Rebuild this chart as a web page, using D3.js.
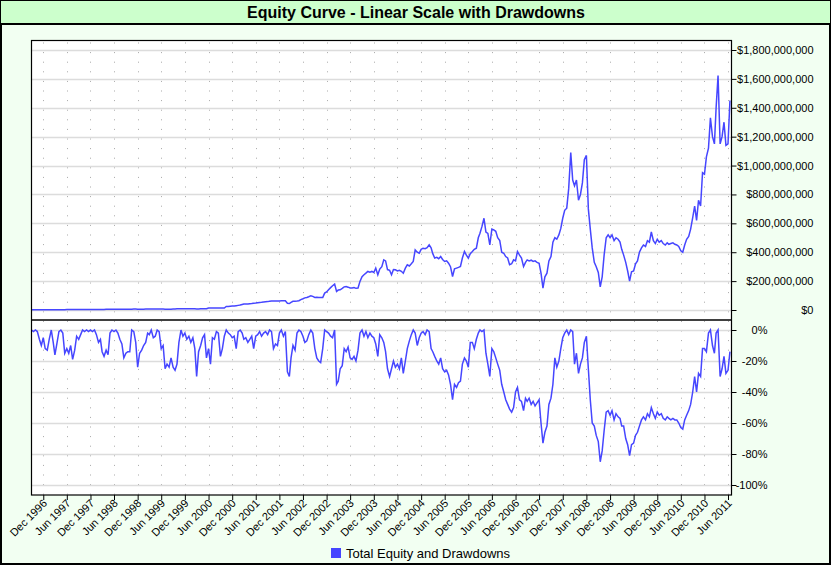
<!DOCTYPE html>
<html>
<head>
<meta charset="utf-8">
<script src="https://cdn.jsdelivr.net/npm/d3@7"></script>
<style>
  html, body { margin: 0; padding: 0; background: #fff; }
  svg { display: block; font-family: "Liberation Sans", Arial, sans-serif; }
</style>
</head>
<body>
<svg id="chart" width="832" height="566"></svg>
<script>
// half-month samples (1st and 16th), Sep 1996 .. Jun 2011
const startMonth = new Date(1996, 8, 1)
const endMonth = new Date(2011, 6, 1)
const lastDay = new Date(2011, 5, 28)

// total equity, millions of dollars
const equity = [
  2, 2, 2, 2, 2, 2, 2, 2, 2, 2, 2, 2, 2, 2, 2, 2, 2, 2, 3, 3,
  3, 3, 3, 3, 3, 3, 3, 3, 3, 3, 3, 3, 3, 3, 4, 4, 4, 4, 5, 5,
  6, 6, 6, 6, 6, 6, 6, 6, 5, 5, 6, 6, 7, 7, 6, 6, 6, 6, 7, 7,
  7, 7, 7, 7, 7, 7, 7, 7, 6, 6, 6, 6, 7, 7, 8, 8, 8, 8, 8, 8,
  8, 8, 8, 8, 7, 7, 8, 8, 9, 9,
  14, 14, 14, 14, 14, 14, 14, 14, 14,
  25, 25, 26, 27, 28, 30,
  32, 34, 38, 41, 41, 42, 44,
  45, 47, 48, 50, 52, 53, 55,
  57, 58, 60, 62, 62, 63, 62, 63, 64, 64, 64,
  47, 45, 53,
  60, 61, 62, 64, 72,
  78, 84, 87, 92, 99,
  94, 87, 88, 87, 86, 87,
  117, 125, 140, 155, 168,
  179, 129, 138, 140, 150,
  160, 163, 158, 152, 152, 155, 150, 152,
  198, 230, 244, 255, 267, 262, 267, 260, 290, 244, 283,
  300, 347, 340, 280, 275, 244, 280, 278, 270, 275,
  268, 255, 290, 313, 305, 320, 336, 416, 400, 393,
  420, 428, 425, 432, 451, 430, 390, 360, 365, 355,
  370, 350, 336, 340, 324, 300, 232, 285, 290, 295,
  301, 360, 405, 380, 359, 390, 405, 420, 428, 500,
  531, 577, 635, 540, 530, 450, 560, 555, 545, 500,
  480, 400, 393, 370, 360, 313, 320, 347, 340, 405,
  380, 360, 301, 330, 347, 340, 345, 336, 340, 330,
  324, 255, 152, 230, 255, 340, 370, 470,
  500, 490, 520, 565, 635, 690, 705, 840, 1090, 900,
  860, 900, 760, 800, 880, 1040, 1070, 700, 560, 430,
  330, 300, 260, 160, 230, 380, 500, 520, 500, 520,
  480, 500, 490, 470, 420, 380, 330, 270, 200, 265,
  270, 320, 340, 400, 430, 450, 440, 480, 470, 540,
  480, 460, 490, 470, 480, 460, 450, 465, 455, 460,
  465, 455, 450, 440, 410, 400, 450, 490, 510, 560,
  640, 720, 620, 760, 720, 950, 940, 1060, 1120, 1330,
  1200, 1150, 1400, 1623, 1150, 1200, 1300, 1140, 1150, 1450
]

// drawdown from the running peak, percent
const drawdown = [
  0, -1, 0, -1, -6, -10, -5, -12, -13, -6,
  0, -8, -16, -9, -1, 0, -2, -15, -12, -15,
  -10, -19, -13, -4, -6, -3, 0, -1, 0, -1,
  0, -1, 0, -3, -8, -6, -14, -17, -13, -16,
  -2, 0, -1, 0, -2, -6, -9, -18, -15, -14,
  -14, 0, -1, -8, -24, -15, -13, -10, -8, -2,
  -3, 0, -5, -4, 0, -1, -12, -10, -25, -22,
  -24, -18, -24, -26, -22, -8, 0, -4, -2, -6,
  -4, -8, -5, -12, -30, -14, -10, -5, -3, -18,
  -12, -22, -5, -6, -1, -2, -17, -12, -4, 0,
  -2, -3, -5, -4, -12, -1, 0, -2, -6, -5,
  -8, -6, -4, -12, -4, -3, -1, -4, -2, -1,
  -3, 0, -1, -12, -9, -10, -2, 0, -4, -1,
  -27, -30, -18, -10, -13, -2, 0, -1, -4, -8,
  -7, -3, 0, -2, -12, -18, -20, -21, -12, 0,
  -1, -2, -4, -5, 0, -35, -33, -25, -23, -12,
  -14, -11, -18, -19, -17, -20, -13, -2, 0, -4,
  -1, -5, -2, -4, -5, -9, -17, -3, -5, -8,
  -14, -25, -30, -25, -20, -24, -22, -25, -18, -28,
  -20, -12, -7, -3, 0, -2, -10, -5, -2, -1,
  -3, 0, -1, -12, -14, -17, -20, -22, -18, -25,
  -27, -26, -29, -35, -45, -35, -37, -34, -33, -22,
  -18, -20, -24, -8, -8, -12, -6, -2, 0, -1,
  0, -15, -22, -30, -12, -14, -18, -22, -26, -35,
  -40, -45, -48, -51, -53, -50, -40, -37, -45, -46,
  -52, -44, -46, -44, -48, -46, -49, -47, -45, -60,
  -73, -66, -62, -48, -44, -35, -18, -24, -20, -12,
  -5, -2, 0, -3, 0, -1, -22, -15, -28, -22,
  -18, -8, -4, -25, -45, -60, -62, -68, -72, -85,
  -78, -65, -53, -52, -55, -52, -58, -54, -56, -57,
  -62, -62, -70, -74, -81, -74, -73, -68, -66, -62,
  -58, -56, -58, -54, -56, -50, -54, -57, -53, -55,
  -54, -57, -58, -56, -57, -58, -57, -58, -58, -60,
  -63, -64, -58, -55, -52, -48, -40, -30, -40, -28,
  -30, -12, -12, -14, -2, 0, -10, -15, -2, 0,
  -30, -25, -17, -28, -26, -14
]

const equityTicks = [0, 200, 400, 600, 800, 1000, 1200, 1400, 1600, 1800]
const drawdownTicks = [0, -20, -40, -60, -80, -100]
const titleText = 'Equity Curve - Linear Scale with Drawdowns'
const legendText = 'Total Equity and Drawdowns'

const dates = d3.timeMonth.range(startMonth, endMonth).flatMap(m => [m, d3.timeDay.offset(m, 15)])
const tickDates = d3.timeMonth.range(new Date(1996, 11, 1), new Date(2011, 6, 1), 6)

const lineColor = '#4646ff'
const plotLeft = 31.5
const plotRight = 731.5
const plotTop = 40.5
const splitY = 320
const plotBottom = 495

const svg = d3.select('#chart')

// page background and frame
svg.append('rect').attr('x', 1).attr('y', 1).attr('width', 829).attr('height', 563)
  .attr('fill', '#f2fff2').attr('stroke', '#000').attr('stroke-width', 2)
svg.append('rect').attr('x', 1).attr('y', 1).attr('width', 829).attr('height', 22.5)
  .attr('fill', '#ccffcc')
svg.append('line').attr('x1', 0).attr('x2', 831).attr('y1', 24).attr('y2', 24)
  .attr('stroke', '#000').attr('stroke-width', 2)
svg.append('text').attr('x', 416).attr('y', 18).attr('text-anchor', 'middle')
  .attr('font-size', 16).attr('font-weight', 'bold').text(titleText)

const x = d3.scaleTime().domain([startMonth, lastDay]).range([plotLeft, plotRight])
const yEq = d3.scaleLinear().domain([0, 1800]).range([310, 50])
const yDd = d3.scaleLinear().domain([0, -100]).range([330, 485])

svg.append('rect').attr('x', plotLeft).attr('y', plotTop)
  .attr('width', plotRight - plotLeft).attr('height', plotBottom - plotTop).attr('fill', '#fff')

// grid
const grid = svg.append('g')
grid.selectAll('.vdots').data(tickDates).join('line')
  .attr('x1', d => Math.round(x(d)) + 0.5).attr('x2', d => Math.round(x(d)) + 0.5)
  .attr('y1', plotTop + 2).attr('y2', plotBottom)
  .attr('stroke', '#a8a8a8').attr('stroke-width', 1).attr('stroke-dasharray', '1,8.6')
grid.selectAll('.heq').data(equityTicks).join('line')
  .attr('x1', plotLeft).attr('x2', plotRight)
  .attr('y1', d => Math.round(yEq(d)) + 0.5).attr('y2', d => Math.round(yEq(d)) + 0.5)
  .attr('stroke', '#dcdcdc').attr('stroke-width', 1.5)
grid.selectAll('.hdd').data(drawdownTicks).join('line')
  .attr('x1', plotLeft).attr('x2', plotRight)
  .attr('y1', d => Math.round(yDd(d)) + 0.5).attr('y2', d => Math.round(yDd(d)) + 0.5)
  .attr('stroke', '#dcdcdc').attr('stroke-width', 1.5)

// clip each panel
const defs = svg.append('defs')
defs.append('clipPath').attr('id', 'clipTop').append('rect')
  .attr('x', plotLeft).attr('y', plotTop).attr('width', plotRight - plotLeft).attr('height', splitY - plotTop)
defs.append('clipPath').attr('id', 'clipBottom').append('rect')
  .attr('x', plotLeft).attr('y', splitY).attr('width', plotRight - plotLeft).attr('height', plotBottom - splitY)

const eqLine = d3.line().x((d, i) => x(dates[i])).y(d => yEq(d))
const ddLine = d3.line().x((d, i) => x(dates[i])).y(d => yDd(d))

svg.append('path').datum(equity).attr('clip-path', 'url(#clipTop)')
  .attr('d', eqLine).attr('fill', 'none').attr('stroke', lineColor).attr('stroke-width', 1.5)
svg.append('path').datum(drawdown).attr('clip-path', 'url(#clipBottom)')
  .attr('d', ddLine).attr('fill', 'none').attr('stroke', lineColor).attr('stroke-width', 1.5)

// plot frame and panel divider
svg.append('rect').attr('x', plotLeft).attr('y', plotTop)
  .attr('width', plotRight - plotLeft).attr('height', plotBottom - plotTop)
  .attr('fill', 'none').attr('stroke', '#000').attr('stroke-width', 1.2)
svg.append('line').attr('x1', plotLeft).attr('x2', plotRight).attr('y1', splitY).attr('y2', splitY)
  .attr('stroke', '#000').attr('stroke-width', 1.6)

// right axes
const money = d3.format(',')
const eqAxis = d3.axisRight(yEq).tickValues(equityTicks).tickSize(5).tickPadding(2)
  .tickFormat(d => '$' + money(d * 1e6))
const gEq = svg.append('g').attr('transform', `translate(${plotRight},0)`).call(eqAxis)
const ddAxis = d3.axisRight(yDd).tickValues(drawdownTicks).tickSize(5).tickPadding(2)
  .tickFormat(d => d + '%')
const gDd = svg.append('g').attr('transform', `translate(${plotRight},0)`).call(ddAxis)

gEq.selectAll('text').attr('text-anchor', 'end').attr('x', 82)
gDd.selectAll('text').attr('text-anchor', 'end').attr('x', 36)
;[gEq, gDd].forEach(g => {
  g.select('.domain').remove()
  g.selectAll('text').attr('font-size', 11).attr('font-family', '"Liberation Sans", Arial, sans-serif').attr('fill', '#000')
  g.selectAll('line').attr('stroke', '#000')
})

// bottom axis
const xAxis = d3.axisBottom(x).tickValues(tickDates).tickSize(5).tickFormat(d3.timeFormat('%b %Y'))
const gX = svg.append('g').attr('transform', `translate(0,${plotBottom})`).call(xAxis)
gX.select('.domain').remove()
gX.selectAll('line').attr('stroke', '#000')
gX.selectAll('text')
  .attr('font-size', 11).attr('font-family', '"Liberation Sans", Arial, sans-serif').attr('fill', '#000')
  .attr('text-anchor', 'end').attr('dy', null).attr('y', 0)
  .attr('transform', 'translate(4,9) rotate(-45)')

// legend
svg.append('rect').attr('x', 331).attr('y', 548).attr('width', 10).attr('height', 10).attr('fill', lineColor)
svg.append('text').attr('x', 346).attr('y', 558).attr('font-size', 13).text(legendText)
</script>
</body>
</html>
